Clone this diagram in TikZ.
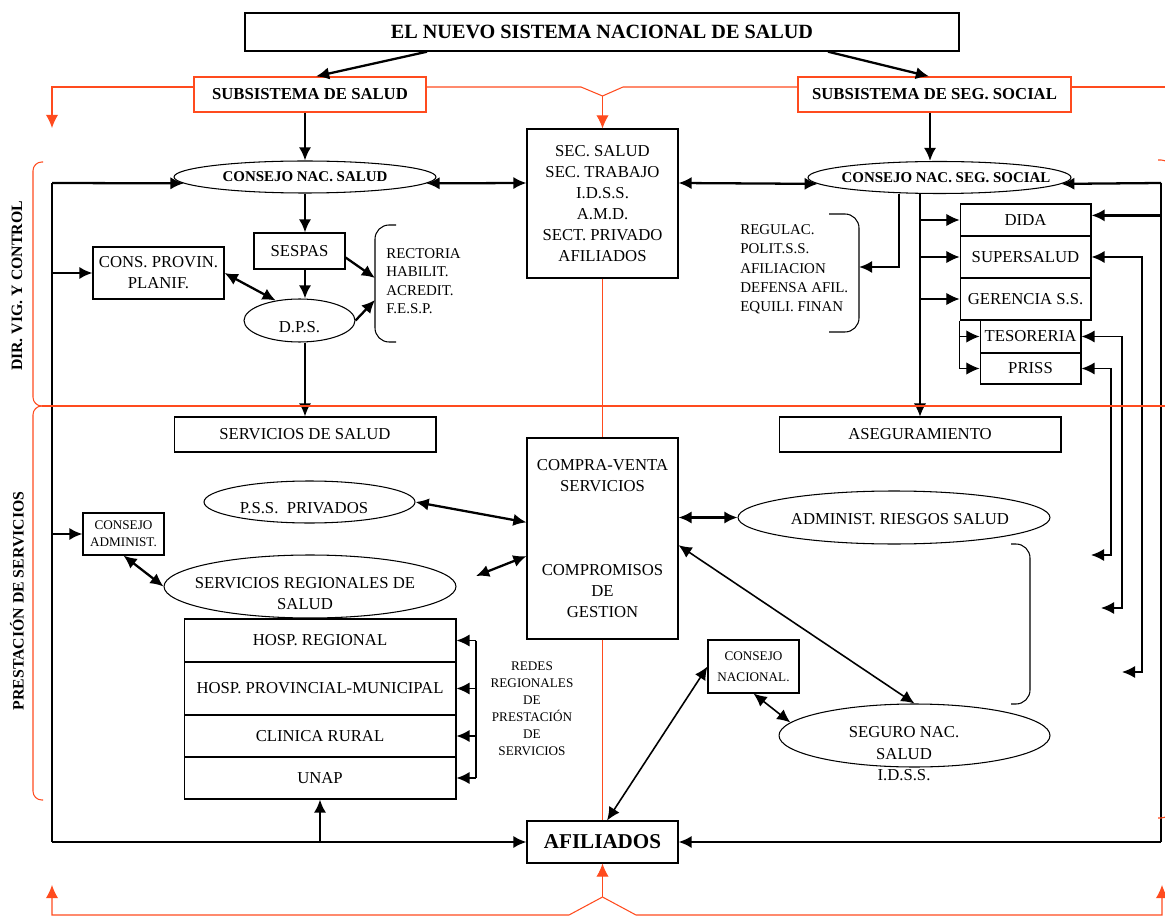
\documentclass[tikz,border=0pt]{standalone}
\usepackage{fontspec}
\setmainfont{Liberation Serif}
\usetikzlibrary{shapes.geometric,arrows.meta}
\definecolor{rojo}{RGB}{255,75,30}

\begin{document}
\begin{tikzpicture}[x=0.02cm,y=-0.02cm,>={Latex[length=7.5pt,width=7pt]},
  font=\fontsize{9.5}{12}\selectfont,
  caja/.style={draw,line width=0.6pt,inner sep=0pt,align=center},
  cajaroja/.style={draw=rojo,line width=0.7pt,inner sep=0pt,font=\bfseries\fontsize{9.5}{12}\selectfont},
  ovalo/.style={draw,ellipse,line width=0.6pt,inner sep=0pt},
  lista/.style={align=left,inner sep=0pt,font=\fontsize{8.5}{10.5}\selectfont},
  chica/.style={align=center,inner sep=0pt,font=\fontsize{7.5}{9.7}\selectfont},
  fina/.style={line width=0.6pt},
  media/.style={line width=0.9pt},
  flecha/.style={->,line width=1.3pt},
  dflecha/.style={<->,line width=1.3pt},
  roja/.style={rojo,line width=0.6pt}]
\useasboundingbox (0,0) rectangle (1165,918) ;
\clip (0,0) rectangle (1165,918) ;
\node [caja,minimum width=14.28cm,minimum height=0.76cm,line width=0.8pt,font=\bfseries\fontsize{11.5}{14}\selectfont] (titulo) at (602,32) {EL NUEVO SISTEMA NACIONAL DE SALUD} ;
\node [cajaroja,minimum width=4.64cm,minimum height=0.7cm] (subsal) at (310,94.5) {SUBSISTEMA DE SALUD} ;
\node [cajaroja,minimum width=5.46cm,minimum height=0.7cm] (subseg) at (934.5,94.5) {SUBSISTEMA DE SEG. SOCIAL} ;
\node [ovalo,minimum width=5.24cm,minimum height=0.64cm] (cns) at (305,177) {} ;
\node [font=\bfseries\fontsize{8.5}{10}\selectfont] (cnstxt) at (305,177) {CONSEJO NAC. SALUD} ;
\node [ovalo,minimum width=5.26cm,minimum height=0.64cm] (cnss) at (939.5,177.5) {} ;
\node [font=\bfseries\fontsize{8.5}{10}\selectfont] (cnsstxt) at (946,177.5) {CONSEJO NAC. SEG. SOCIAL} ;
\node [caja,minimum width=3.02cm,minimum height=2.98cm] (sec) at (602.5,203.5) {SEC. SALUD\\SEC. TRABAJO\\I.D.S.S.\\A.M.D.\\SECT. PRIVADO\\AFILIADOS} ;
\node [caja,minimum width=2.62cm,minimum height=1.04cm] (cprov) at (158.5,273) {CONS. PROVIN.\\PLANIF.} ;
\node [caja,minimum width=1.82cm,minimum height=0.72cm] (sespas) at (299.5,251) {SESPAS} ;
\node [ovalo,minimum width=2.22cm,minimum height=0.86cm] (dps) at (299.5,320.5) {} ;
\node (dpstxt) at (299.5,327) {D.P.S.} ;
\node [lista,anchor=west] (rect) at (386,281) {RECTORIA\\HABILIT.\\ACREDIT.\\F.E.S.P.} ;
\node [lista,anchor=west,font=\fontsize{8.5}{11}\selectfont] (regul) at (740,269.5) {REGULAC.\\POLIT.S.S.\\AFILIACION\\DEFENSA AFIL.\\EQUILI. FINAN} ;
\node [caja,minimum width=2.62cm,minimum height=0.64cm] (dida) at (1025.5,220) {DIDA} ;
\node [caja,minimum width=2.62cm,minimum height=0.84cm] (super) at (1025.5,257) {SUPERSALUD} ;
\node [caja,minimum width=2.62cm,minimum height=0.84cm] (ger) at (1025.5,299) {GERENCIA S.S.} ;
\node [caja,minimum width=2.02cm,minimum height=0.66cm] (teso) at (1030.5,336.5) {TESORERIA} ;
\node [caja,minimum width=2.02cm,minimum height=0.62cm] (priss) at (1030.5,368.5) {PRISS} ;
\node [caja,minimum width=5.24cm,minimum height=0.7cm] (servs) at (305,434.5) {SERVICIOS DE SALUD} ;
\node [caja,minimum width=5.64cm,minimum height=0.7cm] (aseg) at (920,434.5) {ASEGURAMIENTO} ;
\node [caja,minimum width=3.02cm,minimum height=4.02cm] (compra) at (602.5,538.5) {COMPRA-VENTA\\SERVICIOS\\[36pt]COMPROMISOS\\DE\\GESTION} ;
\node [ovalo,minimum width=4.22cm,minimum height=0.84cm] (pss) at (309.5,502) {} ;
\node (psstxt) at (304,508) {P.S.S.\ \ PRIVADOS} ;
\node [caja,chica,minimum width=1.62cm,minimum height=0.84cm] (cadm) at (123.5,534) {CONSEJO\\ADMINIST.} ;
\node [ovalo,minimum width=5.84cm,minimum height=1.26cm] (srs) at (310,586.5) {} ;
\node [align=center] (srstxt) at (305,593.5) {SERVICIOS REGIONALES DE\\SALUD} ;
\node [caja,minimum width=5.44cm,minimum height=0.86cm] (hosp1) at (320,640.5) {HOSP. REGIONAL} ;
\node [caja,minimum width=5.44cm,minimum height=1.06cm] (hosp2) at (320,688.5) {HOSP. PROVINCIAL-MUNICIPAL} ;
\node [caja,minimum width=5.44cm,minimum height=0.84cm] (hosp3) at (320,736) {CLINICA RURAL} ;
\node [caja,minimum width=5.44cm,minimum height=0.84cm] (unap) at (320,778) {UNAP} ;
\node [chica] (redes) at (532,709) {REDES\\REGIONALES\\DE\\PRESTACIÓN\\DE\\SERVICIOS} ;
\node [ovalo,minimum width=6.24cm,minimum height=1.06cm] (ars) at (894,517.5) {} ;
\node (arstxt) at (900,519) {ADMINIST. RIESGOS SALUD} ;
\node [caja,chica,minimum width=1.82cm,minimum height=1.06cm,font=\fontsize{7.5}{12}\selectfont] (cnac) at (753.5,666.5) {CONSEJO\\NACIONAL.} ;
\node [ovalo,minimum width=5.42cm,minimum height=1.26cm] (seguro) at (914.5,735.5) {} ;
\node [align=center,font=\fontsize{9.5}{12.2}\selectfont] (segtxt) at (904,754) {SEGURO NAC.\\SALUD\\I.D.S.S.} ;
\node [caja,minimum width=3.02cm,minimum height=0.84cm,font=\bfseries\fontsize{12}{14}\selectfont] (afil) at (602.5,842) {AFILIADOS} ;
\node [rotate=90,font=\bfseries\fontsize{9}{11}\selectfont] (dirvig) at (17,286) {DIR. VIG. Y CONTROL} ;
\node [rotate=90,font=\bfseries\fontsize{9}{11}\selectfont] (prest) at (17,601) {PRESTACIÓN DE SERVICIOS} ;
\coordinate (iz1) at (52,183) ;
\coordinate (iz2) at (52,842) ;
\coordinate (de1) at (1161,183) ;
\coordinate (de2) at (1161,842) ;
\draw [flecha] (titulo.south -| 427,0) -- (subsal.north -| 316,0) ;
\draw [flecha] (titulo.south -| 828,0) -- (subseg.north -| 929,0) ;
\draw [flecha] (subsal.south -| cns.north) -- (cns.north) ;
\draw [flecha] (subseg.south -| 930,0) -- (cnss.north -| 930,0) ;
\draw [dflecha] (cns.-3) -- (sec.west |- iz1) ;
\draw [dflecha] (sec.east |- iz1) -- (cnss.183) ;
\draw [fina] (iz1) -- (iz2) ;
\draw [flecha] (iz1) -- (cns.183) ;
\draw [flecha] (iz1 |- cprov.west) -- (cprov.west) ;
\draw [flecha] (iz1 |- cadm.west) -- (cadm.west) ;
\draw [flecha] (iz2) -- (afil.west) ;
\draw [flecha] (iz2 -| unap.south) -- (unap.south) ;
\draw [fina] (de1) -- (de2) ;
\draw [flecha] (de1) -- (cnss.-3) ;
\draw [flecha] (de1 |- dida.4) -- (dida.4) ;
\draw [flecha] (de2) -- (afil.east) ;
\draw [flecha] (cns.south) -- (sespas.north -| cns.south) ;
\draw [flecha] (sespas.south -| cns.south) -- (dps.north -| cns.south) ;
\draw [flecha] (dps.south -| servs.north) -- (servs.north) ;
\draw [dflecha] (cprov.east) -- (dps.140) ;
\coordinate (ll1) at (375,278) ;
\coordinate (ll2) at (375,300) ;
\draw [fina,rounded corners=8pt] (396,225) -- (375,225) -- (375,342) -- (396,342) ;
\draw [flecha] (sespas.-8) -- (ll1) ;
\draw [flecha] (dps.east) -- (ll2) ;
\coordinate (ll3) at (859,267) ;
\draw [fina,rounded corners=8pt] (829,214) -- (859,214) -- (859,332) -- (829,332) ;
\draw [flecha] (cnss.south -| 899,0) |- (ll3) ;
\draw [->,fina] (cnss.south -| aseg.north) -- (aseg.north) ;
\draw [->,fina] (aseg.north |- dida.west) -- (dida.west) ;
\draw [->,fina] (aseg.north |- super.west) -- (super.west) ;
\draw [->,fina] (aseg.north |- ger.west) -- (ger.west) ;
\draw [->,fina] (ger.south west) |- (priss.west) ;
\draw [->,fina] (ger.south west |- teso.west) -- (teso.west) ;
\coordinate (pu1) at (1122,672) ;
\coordinate (pu2) at (1101,608) ;
\coordinate (pu3) at (1091,555) ;
\draw [<->,media] (super.east) -| (1142,672) -- (pu1) ;
\draw [<->,media] (teso.east) -| (1122,608) -- (pu2) ;
\draw [<->,media] (priss.east) -| (1111,555) -- (pu3) ;
\draw [dflecha] (pss.east) -- (compra.168) ;
\coordinate (flot) at (476,576) ;
\draw [dflecha] (flot) -- (compra.193) ;
\draw [dflecha] (compra.east |- ars.west) -- (ars.west) ;
\draw [<->,media] (compra.-5) -- (seguro.north) ;
\draw [dflecha] (cadm.south) -- (srs.west) ;
\draw [<->,media] (cnac.south) -- (seguro.174) ;
\draw [<->,media] (cnac.west) -- (afil.78) ;
\draw [fina,rounded corners=8pt] (1011,544) -- (1030,544) -- (1030,704) -- (1011,704) ;
\coordinate (red) at (476,0) ;
\draw [media] (hosp1.east -| red) -- (unap.east -| red) ;
\draw [->,media] (hosp1.east -| red) -- (hosp1.east) ;
\draw [->,media] (hosp2.east -| red) -- (hosp2.east) ;
\draw [->,media] (hosp3.east -| red) -- (hosp3.east) ;
\draw [->,media] (unap.east -| red) -- (unap.east) ;
\coordinate (rz1) at (52,128) ;
\coordinate (rz2) at (52,885) ;
\coordinate (rz3) at (1162,885) ;
\coordinate (vsup) at (602.5,96) ;
\coordinate (vinf) at (602.5,897) ;
\draw [roja,->] (subsal.west |- 0,87) -| (rz1) ;
\draw [roja] (subsal.east |- 0,87) -- (581,87) -- (vsup) -- (623,87) -- (subseg.west |- 0,87) ;
\draw [roja] (subseg.east |- 0,87) -- (1170,87) ;
\draw [roja,->] (vsup) -- (sec.north) ;
\draw [roja] (sec.south) -- (compra.north) ;
\draw [roja] (compra.south) -- (afil.north) ;
\draw [roja,->] (vinf) -- (afil.south) ;
\draw [roja,->] (vinf) -- (569,915) -| (rz2) ;
\draw [roja,->] (vinf) -- (636,915) -| (rz3) ;
\draw [roja] (42,406) -- (1170,406) ;
\draw [roja,rounded corners=5pt] (43,162) -- (33,162) -- (33,406) -- (43,406) ;
\draw [roja,rounded corners=5pt] (43,406) -- (33,406) -- (33,800) -- (43,800) ;
\draw [roja,rounded corners=5pt] (1158,160) -- (1170,160) -- (1170,406) ;
\draw [roja,rounded corners=5pt] (1170,406) -- (1170,818) -- (1158,818) ;
\end{tikzpicture}
\end{document}
